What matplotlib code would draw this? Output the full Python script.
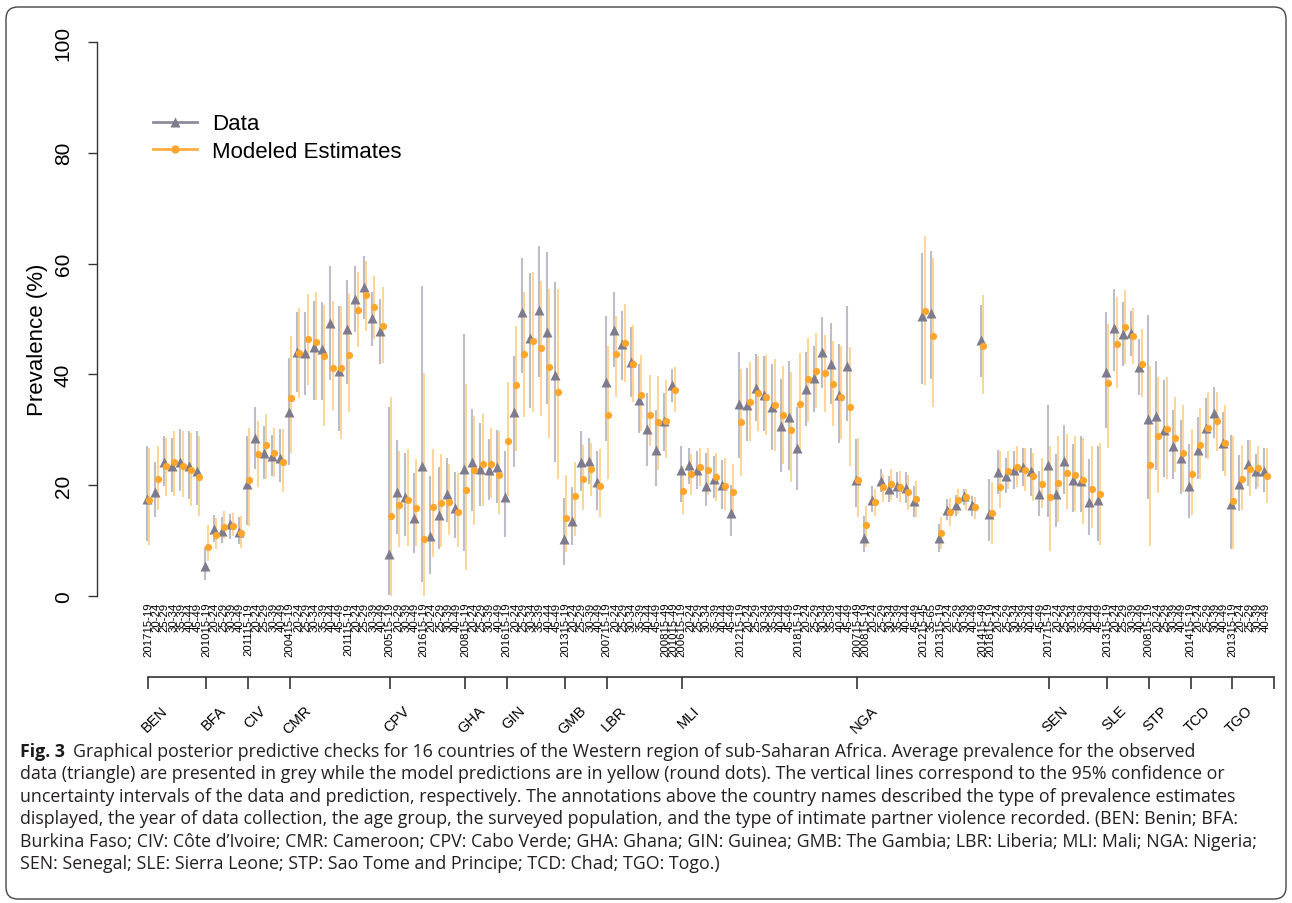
import matplotlib
matplotlib.use("Agg")
import matplotlib.pyplot as plt
from matplotlib import font_manager
from matplotlib.patches import FancyBboxPatch
from matplotlib.lines import Line2D
import matplotlib.transforms as mtransforms
import numpy as np

# ---------------------------------------------------------------- data
countries = ["BEN", "BFA", "CIV", "CMR", "CPV", "GHA", "GIN", "GMB",
             "LBR", "MLI", "NGA", "SEN", "SLE", "STP", "TCD", "TGO"]
country_start = [0, 7, 12, 17, 29, 38, 43, 50, 55, 64, 85, 108, 115, 120, 125, 130]
n_points = 135

A7 = ["15-19", "20-24", "25-29", "30-34", "35-39", "40-44", "45-49"]
A5 = ["15-19", "20-24", "25-29", "30-39", "40-49"]
A4 = ["15-19", "20-29", "30-39", "40-49"]
surveys = [("2017", A7), ("2010", A5), ("2011", A5), ("2004", A7), ("2011", A5),
           ("2005", A4), ("2016", A5), ("2008", A5), ("2016", A7), ("2013", A5),
           ("2007", A7), ("2008", ["15-49"]), ("2010", ["15-49"]),
           ("2006", A7), ("2012", A7), ("2018", A7),
           ("2007", ["15-49"]), ("2008", A7), ("2012", ["15-45", "35-65"]),
           ("2013", A5), ("2014", ["15-49"]), ("2018", A7),
           ("2017", A7), ("2013", A5), ("2008", A5), ("2014", A5), ("2013", A5)]

data_mean = [17.5, 18.8, 24.2, 23.5, 24.2, 23.4, 22.6,
             5.5, 12.1, 11.8, 13.0, 11.6,
             20.2, 28.6, 25.9, 25.3, 25.0,
             33.2, 44.0, 43.8, 44.9, 44.5, 49.3, 40.7, 48.2, 53.6, 55.8, 50.2, 47.9,
             7.6, 18.8, 17.8, 14.0, 23.4, 10.8, 14.7, 18.4, 15.9,
             22.9, 24.1, 22.9, 22.7, 23.3,
             17.9, 33.2, 51.3, 46.5, 51.6, 47.7, 39.9,
             10.2, 13.5, 24.2, 24.4, 20.5,
             38.7, 48.0, 45.4, 42.3, 35.4, 30.1, 26.4, 31.5, 38.0,
             22.8, 23.6, 22.8, 19.9, 21.2, 20.0, 14.9,
             34.7, 34.5, 37.5, 36.3, 34.2, 30.7, 32.4,
             26.7, 37.4, 39.3, 44.0, 41.9, 36.3, 41.5,
             21.0, 10.4, 17.4, 20.8, 19.4, 19.9, 19.5, 17.1, 50.6, 51.1,
             10.4, 15.5, 16.4, 18.1, 16.4, 46.2,
             14.8, 22.4, 21.7, 22.8, 23.2, 22.5, 18.5,
             23.6, 18.4, 24.4, 20.9, 20.7, 17.0, 17.4,
             40.5, 48.4, 47.3, 47.5, 41.3,
             31.9, 32.5, 30.0, 27.1, 24.9,
             19.9, 26.4, 30.3, 33.0, 27.7,
             16.6, 20.2, 23.8, 22.5, 22.6]
data_lo = [10.0, 14.2, 19.9, 18.8, 19.0, 17.5, 16.4,
           2.9, 9.7, 9.6, 10.3, 9.4,
           12.8, 23.0, 21.2, 21.7, 20.6,
           23.6, 36.8, 36.2, 35.4, 35.3, 38.9, 29.8, 38.3, 47.6, 50.0, 45.2, 41.9,
           0.1, 11.2, 10.8, 7.8, 2.6, 4.0, 8.5, 13.3, 10.4,
           8.2, 15.4, 16.2, 17.4, 16.8,
           10.6, 23.2, 40.3, 33.9, 39.5, 34.7, 24.1,
           5.6, 9.2, 19.0, 20.2, 15.6,
           28.0, 41.3, 39.0, 35.9, 29.5, 23.5, 19.8, 26.2, 35.0,
           16.9, 20.2, 19.4, 16.3, 17.6, 15.7, 10.9,
           25.0, 27.9, 31.5, 29.7, 26.4, 22.3, 22.8,
           19.2, 30.6, 33.3, 37.5, 34.7, 27.6, 31.5,
           16.0, 7.9, 15.1, 18.7, 17.0, 17.6, 16.8, 14.2, 38.3, 39.2,
           8.0, 13.8, 14.5, 16.4, 14.5, 39.6,
           10.0, 18.4, 18.6, 19.3, 19.8, 18.1, 14.5,
           14.2, 12.4, 18.4, 15.2, 15.1, 11.0, 10.0,
           30.4, 40.7, 41.6, 43.4, 36.3,
           17.5, 22.8, 21.4, 21.1, 18.4,
           14.0, 21.1, 24.9, 28.5, 22.6,
           8.5, 15.4, 19.8, 19.3, 18.8]
data_hi = [27.1, 24.1, 28.9, 28.6, 30.1, 29.7, 29.7,
           8.8, 14.6, 14.2, 14.8, 14.2,
           28.9, 34.2, 30.7, 29.1, 30.1,
           42.9, 51.2, 51.2, 53.3, 53.0, 59.5, 52.4, 57.1, 59.5, 61.4, 54.9, 53.6,
           34.1, 28.2, 25.9, 22.2, 55.9, 21.7, 23.2, 24.9, 22.4,
           47.3, 33.8, 31.2, 28.3, 30.0,
           26.2, 43.3, 61.0, 58.3, 63.2, 62.1, 56.7,
           17.6, 19.6, 29.8, 28.6, 26.2,
           50.6, 54.8, 51.5, 48.5, 41.9, 36.6, 33.5, 36.6, 40.9,
           27.1, 26.8, 26.2, 25.9, 25.3, 24.6, 20.0,
           44.0, 41.1, 43.7, 43.3, 41.9, 39.2, 42.5,
           34.1, 44.1, 45.2, 50.3, 49.3, 45.5, 52.4,
           28.3, 14.5, 19.8, 22.9, 21.7, 22.4, 22.4, 19.9, 62.0, 62.3,
           13.0, 17.5, 18.2, 19.4, 18.0, 52.5,
           21.1, 26.4, 24.9, 26.2, 26.7, 26.8, 22.6,
           34.5, 25.6, 30.9, 27.4, 28.9, 24.7, 27.1,
           51.2, 55.4, 53.0, 51.5, 46.3,
           50.7, 42.5, 38.9, 33.6, 31.8,
           27.4, 32.4, 35.7, 37.8, 33.3,
           29.1, 25.5, 28.2, 25.6, 26.7]

model_mean = [17.4, 21.1, 23.4, 24.2, 23.5, 22.7, 21.4,
              8.8, 11.1, 12.5, 12.7, 11.3,
              20.9, 25.6, 27.3, 25.9, 24.2,
              35.7, 43.9, 46.4, 45.8, 43.4, 41.1, 41.1, 43.5, 51.6, 54.3, 52.1, 48.7,
              14.5, 16.4, 17.4, 15.8, 10.2, 16.0, 16.8, 16.9, 15.2,
              19.2, 22.7, 23.8, 23.8, 21.8,
              28.0, 38.1, 43.6, 46.0, 44.8, 41.3, 36.9,
              14.0, 18.1, 21.1, 22.9, 19.8,
              32.7, 43.6, 45.6, 41.8, 36.2, 32.7, 31.4, 31.6, 37.2,
              19.0, 22.0, 23.2, 22.7, 21.4, 19.9, 18.7,
              31.4, 35.1, 36.6, 35.9, 34.5, 32.7, 30.0,
              34.7, 39.1, 40.6, 40.2, 38.2, 36.0, 34.2,
              21.0, 12.8, 17.0, 19.6, 20.2, 19.7, 18.7, 17.5, 51.5, 47.0,
              11.4, 15.1, 17.4, 17.8, 16.0, 45.2,
              15.0, 19.6, 22.5, 23.3, 22.7, 21.6, 20.2,
              17.8, 20.4, 22.2, 21.8, 20.9, 19.3, 18.5,
              38.4, 45.5, 48.6, 46.9, 41.9,
              23.6, 28.9, 30.1, 28.5, 25.8,
              22.1, 27.3, 30.3, 31.5, 27.7,
              17.1, 21.2, 23.0, 23.1, 21.6]
model_lo = [9.2, 15.6, 18.1, 18.0, 17.8, 16.3, 14.5,
            6.4, 8.5, 10.3, 10.9, 8.6,
            12.7, 19.6, 21.1, 21.4, 18.8,
            25.8, 35.7, 38.0, 35.3, 30.6, 33.5, 28.3, 33.3, 44.9, 47.9, 46.4, 42.1,
            0.0, 8.8, 9.0, 9.0, 0.0, 7.0, 8.8, 11.0, 8.8,
            4.7, 12.8, 16.3, 17.6, 14.8,
            18.1, 26.2, 32.3, 33.3, 32.5, 28.6, 21.1,
            7.9, 10.8, 15.6, 18.0, 14.2,
            21.2, 35.9, 38.6, 35.0, 29.7, 27.1, 22.8, 24.9, 33.3,
            14.8, 18.2, 19.9, 18.2, 17.2, 15.6, 14.5,
            21.7, 28.0, 29.8, 29.1, 26.2, 23.8, 20.6,
            25.8, 31.4, 33.9, 33.2, 30.7, 28.3, 23.5,
            14.2, 8.8, 14.5, 17.0, 17.4, 16.9, 15.6, 14.2, 38.0, 34.2,
            8.5, 12.7, 14.8, 15.6, 13.9, 36.5,
            9.4, 15.8, 19.4, 19.6, 19.0, 17.2, 15.8,
            8.2, 13.3, 15.7, 15.4, 13.0, 12.2, 9.2,
            26.7, 37.5, 41.9, 41.9, 35.9,
            9.0, 18.6, 21.2, 22.4, 18.7,
            14.6, 21.1, 24.7, 26.2, 21.6,
            8.5, 15.6, 18.1, 19.6, 16.8]
model_hi = [26.7, 27.0, 28.5, 29.7, 29.8, 29.5, 28.9,
            12.9, 14.0, 15.4, 15.0, 14.4,
            30.4, 31.6, 32.9, 30.4, 30.1,
            46.9, 51.9, 54.6, 54.8, 52.5, 53.3, 52.4, 54.5, 58.5, 60.5, 57.8, 55.7,
            35.9, 26.2, 26.5, 24.7, 40.3, 26.5, 25.6, 23.8, 22.2,
            38.3, 32.5, 32.9, 30.4, 29.8,
            38.7, 48.7, 54.8, 58.5, 56.9, 55.5, 55.4,
            21.8, 24.1, 27.3, 27.7, 26.5,
            45.2, 50.6, 52.7, 48.9, 43.5, 39.9, 39.8, 38.9, 41.3,
            23.5, 25.6, 26.8, 26.8, 25.8, 24.9, 23.8,
            40.9, 42.2, 43.4, 43.5, 42.8, 41.6, 40.4,
            43.9, 46.5, 47.5, 47.1, 46.1, 45.2, 44.9,
            28.5, 16.2, 19.3, 22.0, 22.9, 22.6, 21.8, 20.8, 65.0, 61.0,
            14.2, 17.6, 19.4, 19.4, 17.8, 54.3,
            20.5, 26.2, 26.2, 27.1, 26.7, 25.9, 24.9,
            27.1, 28.9, 29.2, 28.9, 28.6, 27.1, 27.7,
            49.1, 53.9, 55.3, 51.9, 48.2,
            41.5, 39.5, 39.5, 36.0, 34.4,
            30.1, 33.9, 36.9, 36.9, 34.5,
            28.9, 27.3, 28.2, 27.1, 26.7]

caption_lines = [
    "Graphical posterior predictive checks for 16 countries of the Western region of sub-Saharan Africa. Average prevalence for the observed",
    "data (triangle) are presented in grey while the model predictions are in yellow (round dots). The vertical lines correspond to the 95% confidence or",
    "uncertainty intervals of the data and prediction, respectively. The annotations above the country names described the type of prevalence estimates",
    "displayed, the year of data collection, the age group, the surveyed population, and the type of intimate partner violence recorded. (BEN: Benin; BFA:",
    "Burkina Faso; CIV: C\u00f4te d\u2019Ivoire; CMR: Cameroon; CPV: Cabo Verde; GHA: Ghana; GIN: Guinea; GMB: The Gambia; LBR: Liberia; MLI: Mali; NGA: Nigeria;",
    "SEN: Senegal; SLE: Sierra Leone; STP: Sao Tome and Principe; TCD: Chad; TGO: Togo.)",
]

# ---------------------------------------------------------------- style
W, H, DPI = 1292, 904, 100
avail = {f.name for f in font_manager.fontManager.ttflist}


def pick(*names):
    for n in names:
        if n in avail:
            return n
    return "DejaVu Sans"


SANS = pick("Liberation Sans", "Arimo", "DejaVu Sans")
CAP = pick("Open Sans", "Noto Sans", "DejaVu Sans")
plt.rcParams["font.family"] = [SANS, "DejaVu Sans"]

GRAY_PT = "#7d7b8d"
GRAY_LN = "#bdbcc9"
ORG_PT = "#ffa62b"
ORG_LN = "#ffd699"
AXC = "#333333"

fig = plt.figure(figsize=(W / DPI, H / DPI), dpi=DPI)


def fx(px):
    return px / W


def fy(py):
    return 1 - py / H


# mapping: index 0 -> 148 px, spacing 8.34 px ; value 0 -> 597 px, 100 -> 43 px
x0_px, dx_px = 148.0, 8.34
y0_px, dy_px = 597.0, 5.54
ax_left_px, ax_right_px, ax_top_px, ax_bot_px = 97, 1285, 30, 600
ax = fig.add_axes([fx(ax_left_px), fy(ax_bot_px),
                   (ax_right_px - ax_left_px) / W, (ax_bot_px - ax_top_px) / H])
ax.set_xlim((ax_left_px - x0_px) / dx_px, (ax_right_px - x0_px) / dx_px)
ax.set_ylim((y0_px - ax_bot_px) / dy_px, (y0_px - ax_top_px) / dy_px)
ax.patch.set_visible(False)

x = np.arange(n_points)
off = 0.14
ax.vlines(x - off, data_lo, data_hi, color=GRAY_LN, lw=1.5, zorder=2)
ax.vlines(x + off, model_lo, model_hi, color=ORG_LN, lw=1.5, zorder=2)
ax.plot(x - off, data_mean, ls="none", marker="^", ms=6.8, color=GRAY_PT,
        mec="none", zorder=3)
ax.plot(x + off, model_mean, ls="none", marker="o", ms=5.2, color=ORG_PT,
        mec="none", zorder=4)

# spines / y axis
for s in ["top", "right", "bottom"]:
    ax.spines[s].set_visible(False)
ax.spines["left"].set_bounds(0, 100)
ax.spines["left"].set_color(AXC)
ax.spines["left"].set_linewidth(1.0)
ax.set_yticks([0, 20, 40, 60, 80, 100])
ax.tick_params(axis="y", length=6.5, width=1.0, color=AXC, pad=11,
               labelsize=15, labelrotation=90)
for lab in ax.get_yticklabels():
    lab.set_va("center")
ax.set_ylabel("Prevalence (%)", fontsize=16)
ax.yaxis.set_label_coords(fx(48), fy(340), transform=fig.transFigure)

# survey/age tick labels
tick_labels = []
for year, ages in surveys:
    for k, a in enumerate(ages):
        tick_labels.append(year + a if k == 0 else a)
ax.set_xticks(x)
ax.set_xticklabels(tick_labels, rotation=90, fontsize=8.2)
ax.tick_params(axis="x", length=0, pad=2)

# country axis
ax2 = fig.add_axes([fx(ax_left_px), fy(678), (ax_right_px - ax_left_px) / W, 0.001])
ax2.set_xlim(ax.get_xlim())
ax2.patch.set_visible(False)
for s in ["top", "right", "left"]:
    ax2.spines[s].set_visible(False)
ax2.spines["bottom"].set_bounds(0, n_points)
ax2.spines["bottom"].set_color(AXC)
ax2.spines["bottom"].set_linewidth(1.2)
ax2.set_yticks([])
ax2.set_xticks(country_start + [n_points])
ax2.set_xticklabels(countries + [""], rotation=45, fontsize=10.5)
ax2.tick_params(axis="x", length=8.6, width=1.2, color=AXC, pad=10)
shift = mtransforms.ScaledTranslation(5 / 72, 0, fig.dpi_scale_trans)
for lab in ax2.get_xticklabels():
    lab.set_ha("center")
    lab.set_transform(lab.get_transform() + shift)

# legend
handles = [Line2D([], [], color="#8e8d9d", lw=2, marker="^", ms=7, mec="none",
                  mfc=GRAY_PT),
           Line2D([], [], color="#ffae42", lw=2, marker="o", ms=6, mec="none",
                  mfc=ORG_PT)]
ax.legend(handles, ["Data", "Modeled Estimates"], loc="center left",
          bbox_to_anchor=(fx(153), fy(138.5)), bbox_transform=fig.transFigure,
          frameon=False, fontsize=16, handlelength=2.0, handletextpad=0.65,
          labelspacing=0.28, borderpad=0, borderaxespad=0, numpoints=1)

# border
border = FancyBboxPatch((6, 4), W - 12, H - 12,
                        boxstyle="round,pad=0,rounding_size=12",
                        transform=mtransforms.IdentityTransform(),
                        fill=False, ec="#444444", lw=1.0)
fig.patches.append(border)

# caption
renderer = fig.canvas.get_renderer()
line_end = [1234, 1232, 1277, 1235, 1251, 703]
bold_w = 0
probe_b = fig.text(0, 0, "Fig. 3", family=CAP, fontsize=10, weight="bold")
bold_w = probe_b.get_window_extent(renderer).width
probe_b.remove()
scales = []
for i, ln in enumerate(caption_lines[:5]):
    p = fig.text(0, 0, ln, family=CAP, fontsize=10)
    w = p.get_window_extent(renderer).width
    p.remove()
    start = 20
    if i == 0:
        w += bold_w + 8
    scales.append((line_end[i] - start) / w)
cap_fs = 10 * min(scales)
line_y = [752, 774.5, 797, 819.5, 842, 864.5]
tf = fig.text(fx(20), fy(line_y[0]), "Fig. 3", family=CAP, fontsize=cap_fs,
              weight="bold", color="#1a1a1a", va="center", ha="left")
wfig = tf.get_window_extent(renderer).width
fig.text(fx(20 + wfig + 8), fy(line_y[0]), caption_lines[0], family=CAP,
         fontsize=cap_fs, color="#231f20", va="center", ha="left")
for ln, yy in zip(caption_lines[1:], line_y[1:]):
    fig.text(fx(20), fy(yy), ln, family=CAP, fontsize=cap_fs, color="#231f20",
             va="center", ha="left")

fig.savefig("out.png", dpi=DPI)
